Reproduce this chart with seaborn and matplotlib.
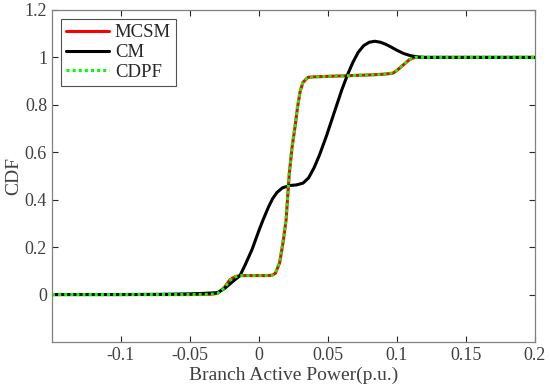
import matplotlib
matplotlib.use("Agg")
import matplotlib.pyplot as plt
import numpy as np
import pandas as pd
import seaborn as sns

# values
mcsm_x = [-0.15, -0.05, -0.035, -0.03, -0.025, -0.021, -0.017, -0.0137, -0.005, 0.0,
          0.005, 0.0095, 0.012, 0.015, 0.0175, 0.0197, 0.022, 0.024, 0.026, 0.028, 0.030,
          0.032, 0.0356, 0.04, 0.05, 0.06, 0.07, 0.08, 0.09, 0.097, 0.1, 0.105, 0.109,
          0.113, 0.12, 0.2]
mcsm_y = [0.0, 0.0, 0.001, 0.005, 0.03, 0.063, 0.076, 0.08, 0.08, 0.08,
          0.08, 0.081, 0.09, 0.134, 0.22, 0.315, 0.51, 0.62, 0.70, 0.79, 0.86,
          0.895, 0.916, 0.918, 0.92, 0.922, 0.924, 0.926, 0.929, 0.933, 0.945, 0.97, 0.99,
          1.0, 1.0, 1.0]

cdpf_x = [-0.15, -0.05, -0.035, -0.03, -0.025, -0.021, -0.017, -0.0137, -0.005, 0.0,
          0.005, 0.0095, 0.012, 0.015, 0.0175, 0.0197, 0.022, 0.024, 0.026, 0.028, 0.030,
          0.032, 0.0356, 0.04, 0.05, 0.06, 0.07, 0.08, 0.09, 0.097, 0.1, 0.105, 0.109,
          0.113, 0.12, 0.2]
cdpf_y = [0.0, 0.0, 0.001, 0.004, 0.028, 0.061, 0.075, 0.08, 0.08, 0.08,
          0.08, 0.081, 0.092, 0.138, 0.225, 0.32, 0.515, 0.625, 0.705, 0.795, 0.862,
          0.897, 0.916, 0.918, 0.92, 0.922, 0.924, 0.926, 0.929, 0.934, 0.946, 0.971, 0.99,
          1.0, 1.0, 1.0]

cm_x = [-0.15, -0.1, -0.07, -0.05, -0.04, -0.03, -0.025, -0.02, -0.0137, -0.01, -0.005,
        0.0, 0.003, 0.007, 0.01, 0.013, 0.017, 0.0225, 0.027, 0.032, 0.036, 0.04, 0.044,
        0.049, 0.055, 0.06, 0.064, 0.068, 0.072, 0.076, 0.08, 0.084, 0.088, 0.092, 0.096,
        0.1, 0.105, 0.11, 0.115, 0.12, 0.2]
cm_y = [0.0, 0.0, 0.001, 0.003, 0.005, 0.008, 0.025, 0.05, 0.08, 0.125, 0.19,
        0.27, 0.315, 0.37, 0.405, 0.43, 0.45, 0.46, 0.462, 0.47, 0.492, 0.535, 0.59,
        0.67, 0.775, 0.862, 0.924, 0.978, 1.022, 1.05, 1.064, 1.068, 1.064, 1.055, 1.043,
        1.03, 1.016, 1.007, 1.002, 1.0, 1.0]

x_ticks = [-0.1, -0.05, 0, 0.05, 0.1, 0.15, 0.2]
x_tick_labels = ["-0.1", "-0.05", "0", "0.05", "0.1", "0.15", "0.2"]
y_ticks = [0, 0.2, 0.4, 0.6, 0.8, 1.0, 1.2]
y_tick_labels = ["0", "0.2", "0.4", "0.6", "0.8", "1", "1.2"]

sns.set_style("ticks")
plt.rcParams["font.family"] = ["Liberation Serif", "DejaVu Serif"]

fig = plt.figure(figsize=(5.5, 3.92), dpi=100)
ax = fig.add_axes([0.0945, 0.1276, 0.878, 0.847])

dark = "#262626"
sns.lineplot(x=mcsm_x, y=mcsm_y, ax=ax, color="#ff0000", linewidth=2.2, label="MCSM")
sns.lineplot(x=cm_x, y=cm_y, ax=ax, color="black", linewidth=2.2, label="CM")
sns.lineplot(x=cdpf_x, y=cdpf_y, ax=ax, color="#00ff00", linewidth=2.2,
             linestyle=(0, (1, 1)), label="CDPF")

ax.set_xlim(-0.15, 0.2)
ax.set_ylim(-0.2, 1.2)
ax.set_xticks(x_ticks)
ax.set_xticklabels(x_tick_labels)
ax.set_yticks(y_ticks)
ax.set_yticklabels(y_tick_labels)
ax.tick_params(direction="in", top=True, right=True, length=4, width=0.8,
               colors=dark, labelsize=13, labelcolor="#404040")
for s in ax.spines.values():
    s.set_color("#808080")
    s.set_linewidth(0.9)

ax.set_xlabel("Branch Active Power(p.u.)", fontsize=14, color="#404040", labelpad=2)
ax.set_ylabel("CDF", fontsize=14, color="#404040", labelpad=2)

leg = ax.legend(loc="upper left", fontsize=13.5, frameon=True, fancybox=False,
                handlelength=2.3, handletextpad=0.3, borderpad=0.25, labelspacing=0.15,
                borderaxespad=0.5)
leg.get_frame().set_edgecolor(dark)
leg.get_frame().set_linewidth(0.8)

fig.savefig("out.png", dpi=100)
